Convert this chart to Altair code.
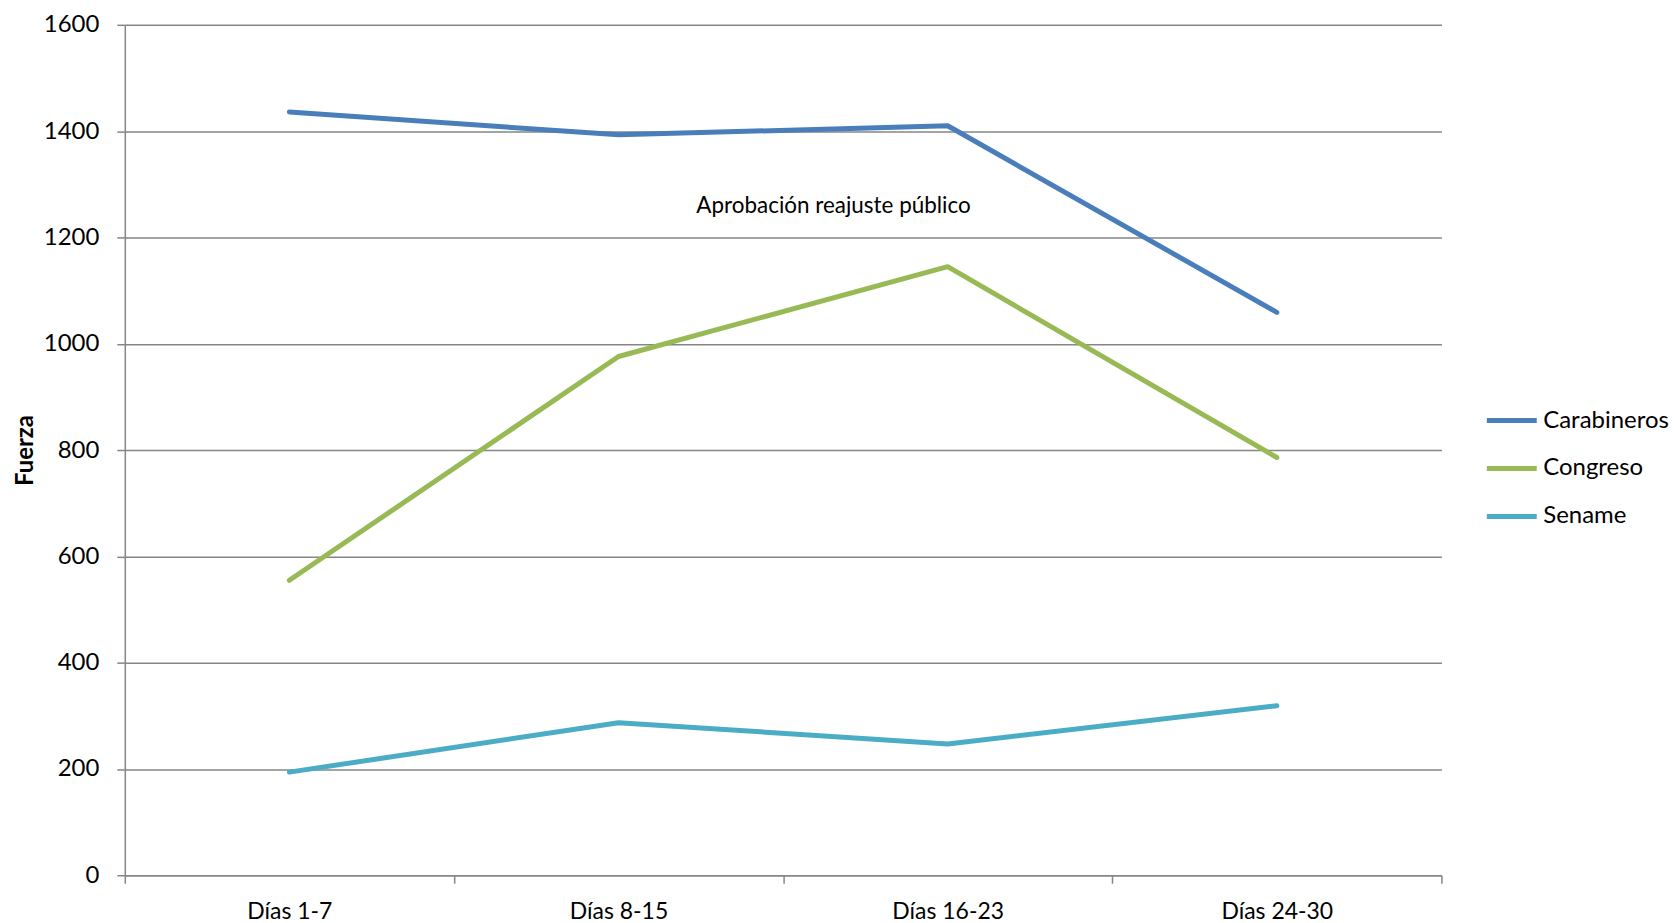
import altair as alt
import pandas as pd

categories = ["Días 1-7", "Días 8-15", "Días 16-23", "Días 24-30"]
carabineros = [1436, 1393, 1410, 1059]
congreso = [555, 976, 1145, 786]
sename = [194, 287, 247, 319]
series_names = ["Carabineros", "Congreso", "Sename"]
series_colors = ["#4A7EBB", "#98B954", "#4BACC6"]
y_ticks = [0, 200, 400, 600, 800, 1000, 1200, 1400, 1600]
annotation_text = ["Aprobación reajuste público"]
annotation_value = [1260]

rows = []
for name, vals in zip(series_names, [carabineros, congreso, sename]):
    for c, v in zip(categories, vals):
        rows.append({"Periodo": c, "Serie": name, "Fuerza": v})
df = pd.DataFrame(rows)
ann = pd.DataFrame({"t": annotation_text, "v": annotation_value})

FONT = "Lato"
GRAY = "#868686"

y_enc = alt.Y(
    "Fuerza:Q",
    scale=alt.Scale(domain=[0, 1600], nice=False, zero=True),
    axis=alt.Axis(
        values=y_ticks, format="d", title="Fuerza", titleFont=FONT, titleFontSize=24,
        titleFontWeight="bold", titleColor="black", titlePadding=6,
        labelFont=FONT, labelFontSize=24, labelColor="black", labelPadding=18,
        domainColor=GRAY, domainWidth=1.5, tickColor=GRAY, tickWidth=1.5,
        tickSize=8, gridColor=GRAY, gridWidth=1.5, grid=True,
    ),
)

lines = alt.Chart(df).mark_line(strokeWidth=5, strokeCap="round", strokeJoin="round").encode(
    x=alt.X(
        "Periodo:N", sort=categories, bandPosition=0.5,
        scale=alt.Scale(type="band", paddingInner=0, paddingOuter=0),
        axis=alt.Axis(
            title=None, labelAngle=0, tickBand="extent", labelFont=FONT,
            labelFontSize=23, labelColor="black", labelPadding=17,
            domainColor=GRAY, domainWidth=1.5, tickColor=GRAY, tickWidth=1.5,
            tickSize=8, grid=False,
        ),
    ),
    y=y_enc,
    color=alt.Color(
        "Serie:N",
        scale=alt.Scale(domain=series_names, range=series_colors),
        legend=alt.Legend(
            title=None, orient="none", legendX=1362, legendY=369,
            symbolType="stroke", symbolSize=2500, symbolStrokeWidth=5,
            labelFont=FONT, labelFontSize=24, labelColor="black",
            labelOffset=4, rowPadding=8, padding=0, labelLimit=200,
        ),
    ),
)

text = alt.Chart(ann).mark_text(font=FONT, fontSize=22.5, color="black", align="center", baseline="middle").encode(
    x=alt.value(710),
    y=alt.Y("v:Q"),
    text="t:N",
)

chart = (
    alt.layer(lines, text)
    .properties(width=1319, height=852, padding={"left": 5, "top": 4, "right": 0, "bottom": 5})
    .configure_view(stroke=None)
)

chart.save("out.html", embed_options={"renderer": "svg", "actions": False})
